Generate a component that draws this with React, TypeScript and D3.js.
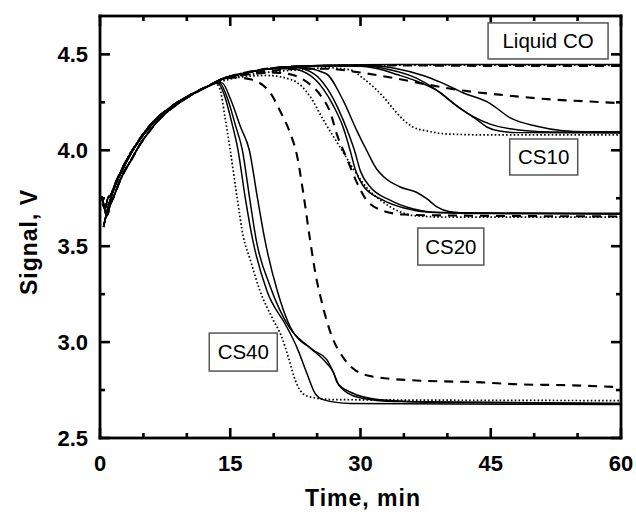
import React from "react";
import * as d3 from "d3";

type P = [number, number];

// ---- data (time, min ; signal, V) ----
const riseA: P[] = [[0.4,3.60],[0.7,3.66],[1.1,3.73],[1.7,3.81],[2.5,3.89],[3.4,3.97],[4.5,4.05],[5.6,4.115],[6.7,4.17],[7.8,4.21],[9.0,4.25],[10.2,4.285],[11.4,4.31],[12.5,4.335],[13.2,4.35]];
const riseB: P[] = [[0.3,3.72],[0.6,3.70],[0.9,3.75],[1.3,3.77],[1.7,3.82],[2.3,3.88],[3.2,3.96],[4.3,4.04],[5.4,4.11],[6.5,4.165],[7.7,4.21],[8.9,4.25],[10.1,4.28],[11.3,4.31],[12.5,4.335],[13.2,4.35]];
const riseC: P[] = [[0.2,3.76],[0.5,3.70],[0.8,3.66],[1.2,3.72],[1.6,3.76],[2.1,3.82],[2.7,3.88],[3.6,3.95],[4.6,4.03],[5.7,4.10],[6.8,4.16],[8.0,4.21],[9.2,4.25],[10.4,4.285],[11.6,4.315],[12.7,4.34],[13.3,4.355]];

const liquidSolid: P[] = [...riseA, [14,4.37],[15.5,4.39],[17.5,4.41],[19.5,4.425],[22,4.436],[25,4.442],[30,4.446],[40,4.447],[50,4.447],[60,4.447]];
const liquidDashed: P[] = [...riseB, [14,4.37],[15.5,4.392],[17.5,4.412],[19.5,4.427],[22,4.436],[26,4.44],[35,4.442],[45,4.44],[60,4.44]];
const liquidDotted: P[] = [...riseC, [14,4.372],[16,4.398],[18,4.415],[20,4.428],[23,4.437],[27,4.442],[40,4.444],[60,4.443]];

const cs10Solid1: P[] = [...riseA, [14,4.37],[15.5,4.39],[17.5,4.41],[19.5,4.425],[22,4.435],[26,4.44],[30,4.438],[32,4.425],[34.2,4.395],[36.5,4.36],[39.2,4.30],[41.1,4.23],[43.4,4.16],[44.6,4.12],[46,4.10],[48,4.092],[60,4.09]];
const cs10Solid2: P[] = [...riseB, [14,4.37],[15.5,4.39],[17.5,4.41],[19.5,4.425],[22,4.435],[26,4.44],[30,4.44],[33.4,4.42],[36.5,4.375],[38.4,4.325],[40.7,4.245],[43,4.175],[45,4.135],[47.2,4.112],[49.5,4.10],[52,4.095],[60,4.093]];
const cs10Solid3: P[] = [...riseC, [14,4.37],[15.5,4.39],[17.5,4.41],[19.5,4.425],[22,4.435],[26,4.442],[31,4.442],[34.2,4.425],[37.2,4.39],[39.2,4.355],[41.8,4.30],[44.9,4.245],[47.2,4.17],[50.3,4.125],[53.3,4.102],[56,4.097],[60,4.096]];
const cs10Dotted: P[] = [...riseB, [14,4.365],[16,4.385],[18,4.40],[20,4.41],[23,4.42],[26,4.43],[28.8,4.42],[30.3,4.375],[31.5,4.33],[32.6,4.28],[33.8,4.215],[34.9,4.16],[36.1,4.12],[37.7,4.10],[40,4.085],[45,4.08],[60,4.08]];
const cs10Dashed: P[] = [...riseC, [14,4.37],[16,4.39],[18,4.405],[20,4.415],[23,4.425],[26,4.425],[30,4.405],[34,4.375],[38,4.34],[42,4.31],[46,4.29],[52,4.265],[56,4.255],[60,4.245]];

const cs20Solid1: P[] = [...riseA, [14,4.37],[15.5,4.39],[17.5,4.41],[19.5,4.425],[22,4.425],[24.2,4.39],[25.7,4.32],[26.9,4.23],[28,4.12],[28.8,4.0],[29.4,3.9],[30.3,3.815],[32.6,3.74],[34.9,3.70],[38,3.677],[45,3.67],[60,3.668]];
const cs20Solid2: P[] = [...riseB, [14,4.37],[15.5,4.39],[17.5,4.41],[19.5,4.425],[22.5,4.43],[24.6,4.40],[26.2,4.32],[27.4,4.22],[28.6,4.09],[29.3,4.0],[30,3.89],[31.1,3.81],[33.4,3.74],[36,3.695],[39.2,3.675],[60,3.668]];
const cs20Solid3: P[] = [...riseC, [14,4.37],[15.5,4.39],[17.5,4.41],[19.5,4.425],[22.5,4.435],[26,4.40],[28,4.26],[29.6,4.10],[30.7,4.0],[31.9,3.90],[32.6,3.865],[34.5,3.81],[36.5,3.78],[37.7,3.745],[38.8,3.705],[40.3,3.68],[43,3.672],[60,3.672]];
const cs20Dotted: P[] = [...riseB, [14,4.36],[16,4.38],[19.2,4.39],[22.2,4.365],[24.2,4.28],[25.7,4.16],[26.9,4.07],[28,3.99],[29.5,3.88],[31,3.79],[32.6,3.73],[34.5,3.68],[36.5,3.658],[40,3.652],[60,3.652]];
const cs20Dashed: P[] = [...riseC, [14,4.37],[16,4.39],[18,4.40],[20,4.405],[22,4.395],[24,4.35],[25.5,4.28],[26.5,4.2],[27.3,4.08],[28.4,3.96],[29.6,3.83],[30.7,3.74],[32.6,3.685],[35,3.665],[40,3.66],[60,3.655]];

const cs40Solid1: P[] = [...riseA, [13.7,4.345],[14.3,4.29],[15.2,4.14],[15.9,4.0],[16.7,3.76],[17.6,3.53],[19.2,3.27],[21.5,3.08],[22.7,2.97],[23.8,2.84],[24.8,2.73],[25.7,2.70],[28.8,2.68],[60,2.675]];
const cs40Solid2: P[] = [...riseB, [13.8,4.35],[14.6,4.28],[15.6,4.13],[16.4,4.0],[17.2,3.76],[18.0,3.53],[19.6,3.29],[21.9,3.07],[24.2,2.97],[26.1,2.89],[26.9,2.84],[27.3,2.79],[28.8,2.74],[32.2,2.70],[40,2.685],[60,2.68]];
const cs40Solid3: P[] = [...riseC, [14.1,4.35],[15,4.27],[16.2,4.12],[17.2,4.0],[18.1,3.76],[19.0,3.53],[20.4,3.27],[21.9,3.08],[24.5,2.96],[26.1,2.91],[26.9,2.84],[27.6,2.77],[29.9,2.71],[34,2.69],[60,2.68]];
const cs40Dotted: P[] = [...riseA, [13.8,4.32],[14.4,4.17],[15,4.0],[15.8,3.75],[16.5,3.55],[17.3,3.43],[18.4,3.27],[19.9,3.12],[20.9,3.03],[21.7,2.92],[22.5,2.80],[23.4,2.73],[24.6,2.71],[27,2.70],[60,2.695]];
const cs40Dashed: P[] = [...riseB, [14,4.37],[15.5,4.38],[17.3,4.37],[19.6,4.30],[20.9,4.19],[21.9,4.09],[22.7,3.97],[23.4,3.78],[24.2,3.53],[24.8,3.36],[25.7,3.18],[26.7,3.03],[28,2.92],[29.9,2.84],[32.2,2.815],[36.4,2.80],[44,2.79],[48,2.78],[54,2.775],[60,2.765]];

const xMajor = [0, 15, 30, 45, 60];
const xMinor = [5, 10, 20, 25, 35, 40, 50, 55];
const yMajor = [2.5, 3.0, 3.5, 4.0, 4.5];
const yMinor = [2.75, 3.25, 3.75, 4.25];

const labelTexts = ["Liquid CO", "CS10", "CS20", "CS40"];
const labelT = [51.6, 51.1, 40.4, 16.5];
const labelV = [4.57, 3.965, 3.498, 2.948];

// line kinds
const solidSeries = [liquidSolid, cs10Solid1, cs10Solid2, cs10Solid3, cs20Solid1, cs20Solid2, cs20Solid3, cs40Solid1, cs40Solid2, cs40Solid3];
const dashedSeries = [liquidDashed, cs10Dashed, cs20Dashed, cs40Dashed];
const dottedSeries = [liquidDotted, cs10Dotted, cs20Dotted, cs40Dotted];

const W = 636, H = 514;
const L = 100, R = 621, T = 16, B = 438;
const FONT = "'Liberation Sans', Arial, Helvetica, sans-serif";
const AW = 2.8; // axis thickness
const TW = 2.6; // tick thickness

export default function App() {
  const x = d3.scaleLinear().domain([0, 60]).range([L, R]);
  const y = d3.scaleLinear().domain([2.5, 4.7]).range([B, T]);
  const line = d3.line<P>().x(d => x(d[0])).y(d => y(d[1])).curve(d3.curveMonotoneX);
  const boxW = [120, 68, 66, 68];
  const boxH = [36, 36, 37, 38];

  const tickRects: { x: number; y: number; w: number; h: number }[] = [];
  const vt = (v: number, len: number) => {
    tickRects.push({ x: x(v) - TW / 2, y: B - len, w: TW, h: len });
    tickRects.push({ x: x(v) - TW / 2, y: T, w: TW, h: len });
  };
  const ht = (v: number, len: number) => {
    tickRects.push({ x: L, y: y(v) - TW / 2, w: len, h: TW });
    tickRects.push({ x: R - len, y: y(v) - TW / 2, w: len, h: TW });
  };
  xMajor.forEach(v => vt(v, 10));
  xMinor.forEach(v => vt(v, 5));
  yMajor.forEach(v => ht(v, 10));
  yMinor.forEach(v => ht(v, 5));

  return (
    <svg width={W} height={H} style={{ position: "absolute", left: 0, top: 0 }}>
      <rect x={0} y={0} width={W} height={H} fill="#fff" />
      <defs>
        <clipPath id="plot"><rect x={L} y={T} width={R - L} height={B - T} /></clipPath>
      </defs>
      <g clipPath="url(#plot)">
        {solidSeries.map((s, i) => <path key={"s" + i} d={line(s) || ""} stroke="#000" strokeWidth={1.5} fill="none" />)}
        {dashedSeries.map((s, i) => <path key={"d" + i} d={line(s) || ""} stroke="#000" strokeWidth={2.1} fill="none" strokeDasharray="9,7" />)}
        {dottedSeries.map((s, i) => <path key={"o" + i} d={line(s) || ""} stroke="#000" strokeWidth={1.7} fill="none" strokeDasharray="1.6,2.2" />)}
      </g>
      {tickRects.map((r, i) => <rect key={"t" + i} x={r.x} y={r.y} width={r.w} height={r.h} fill="#000" />)}
      <rect x={L - AW / 2} y={T - AW / 2} width={R - L + AW} height={AW} fill="#000" />
      <rect x={L - AW / 2} y={B - AW / 2} width={R - L + AW} height={AW} fill="#000" />
      <rect x={L - AW / 2} y={T - AW / 2} width={AW} height={B - T + AW} fill="#000" />
      <rect x={R - AW / 2} y={T - AW / 2} width={AW} height={B - T + AW} fill="#000" />
      <g fontFamily={FONT} fontWeight="bold" fontSize={22} fill="#000">
        {xMajor.map(v => <text key={"xl" + v} x={x(v)} y={471} textAnchor="middle">{v}</text>)}
        {yMajor.map(v => <text key={"ylab" + v} x={88} y={y(v) + 8} textAnchor="end">{v.toFixed(1)}</text>)}
      </g>
      <text x={363} y={506} textAnchor="middle" fontFamily={FONT} fontWeight="bold" fontSize={23} letterSpacing={1}>Time, min</text>
      <text transform={`translate(37,${242}) rotate(-90)`} textAnchor="middle" fontFamily={FONT} fontWeight="bold" fontSize={23} letterSpacing={1}>Signal, V</text>
      {labelTexts.map((t, i) => (
        <g key={t}>
          <rect x={x(labelT[i]) - boxW[i] / 2} y={y(labelV[i]) - boxH[i] / 2} width={boxW[i]} height={boxH[i]} fill="#fff" stroke="#555" strokeWidth={1.5} />
          <text x={x(labelT[i])} y={y(labelV[i]) + 7} textAnchor="middle" fontFamily={FONT} fontSize={20.5} fill="#000">{t}</text>
        </g>
      ))}
    </svg>
  );
}
